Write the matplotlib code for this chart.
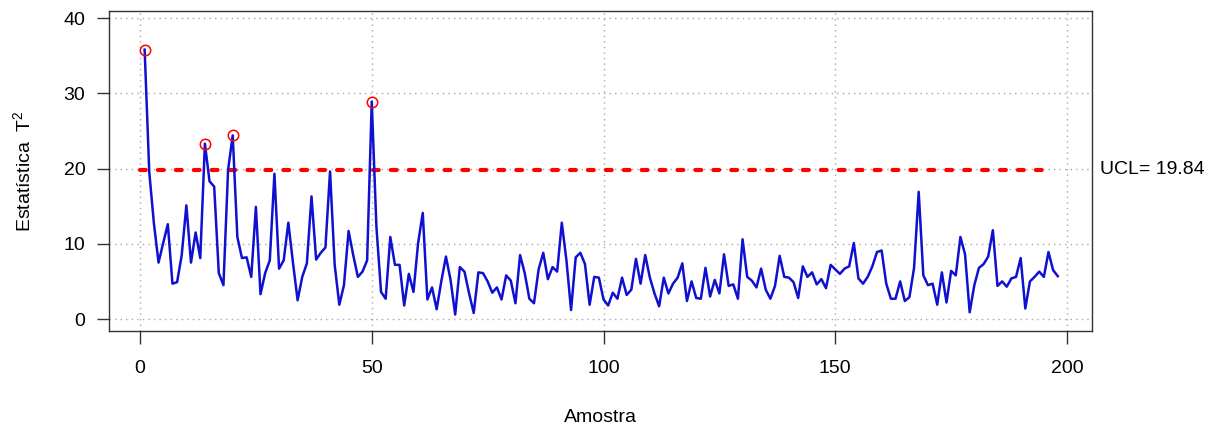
import numpy as np
import matplotlib
matplotlib.use('Agg')
import matplotlib.pyplot as plt

plt.rcParams['font.family'] = ['Liberation Sans', 'DejaVu Sans']
plt.rcParams['mathtext.fontset'] = 'custom'
plt.rcParams['mathtext.rm'] = 'Liberation Sans'
plt.rcParams['mathtext.it'] = 'Liberation Sans'

# T2 statistic per sample
t2 = [35.8, 19.5, 12.7, 7.5, 10.1, 12.6, 4.7, 4.9, 8.5, 15.1,
      7.5, 11.5, 8.1, 23.3, 18.3, 17.6, 6.1, 4.5, 19.8, 24.4,
      10.9, 8.1, 8.2, 5.6, 14.9, 3.3, 6.1, 7.8, 19.3, 6.7,
      7.8, 12.8, 7.5, 2.5, 5.6, 7.4, 16.3, 7.9, 8.8, 9.5,
      19.6, 7.2, 1.9, 4.5, 11.7, 8.5, 5.6, 6.3, 7.8, 28.9,
      12.3, 3.6, 2.7, 10.9, 7.2, 7.2, 1.8, 6.0, 3.6, 10.1,
      14.1, 2.6, 4.2, 1.3, 5.0, 8.3, 5.2, 0.6, 6.9, 6.3,
      3.4, 0.8, 6.2, 6.1, 5.0, 3.5, 4.2, 2.6, 5.8, 5.1,
      2.1, 8.5, 6.1, 2.7, 2.1, 6.6, 8.8, 5.3, 6.9, 6.3,
      12.8, 7.8, 1.2, 8.2, 8.8, 7.3, 1.9, 5.6, 5.5, 2.6,
      1.8, 3.5, 2.7, 5.5, 3.2, 3.9, 8.0, 4.7, 8.5, 5.5,
      3.4, 1.7, 5.5, 3.4, 4.7, 5.5, 7.4, 2.4, 5.0, 2.8,
      2.7, 6.8, 3.0, 5.2, 3.4, 8.6, 4.4, 4.6, 2.7, 10.6,
      5.6, 5.1, 4.2, 6.7, 3.9, 2.7, 4.4, 8.4, 5.6, 5.5,
      4.9, 2.8, 7.0, 5.6, 6.2, 4.6, 5.3, 4.1, 7.2, 6.6,
      6.0, 6.7, 7.0, 10.1, 5.4, 4.7, 5.6, 7.0, 8.9, 9.1,
      4.7, 2.7, 2.7, 5.0, 2.4, 2.9, 6.8, 16.9, 5.8, 4.5,
      4.7, 1.9, 6.2, 2.2, 6.4, 5.8, 10.9, 8.6, 0.9, 4.5,
      6.8, 7.3, 8.3, 11.8, 4.4, 5.0, 4.3, 5.4, 5.6, 8.1,
      1.4, 5.0, 5.6, 6.3, 5.6, 8.9, 6.5, 5.7]
amostra = np.arange(1, len(t2) + 1)
ucl = 19.84

x_ticks = [0, 50, 100, 150, 200]
y_ticks = [0, 10, 20, 30, 40]

t2 = np.array(t2)
out = t2 > ucl

fig = plt.figure(figsize=(12.22, 4.30), dpi=100)
ax = fig.add_axes([109 / 1222, 99 / 430, 983 / 1222, 320.3 / 430])

# dotted grid
for v in x_ticks:
    ax.axvline(v, color='#a8a8a8', lw=1, ls=(0, (1, 3)), zorder=0)
for v in y_ticks:
    ax.axhline(v, color='#a8a8a8', lw=1, ls=(0, (1, 3)), zorder=0)

ax.plot([0, 197], [ucl, ucl], color='red', lw=3, ls=(0, (1.4, 2.9)),
        dash_capstyle='round', zorder=2)
ax.plot(amostra, t2, color='#1010d0', lw=1.8, zorder=3)
ax.plot(amostra[out], t2[out], 'o', mfc='none', mec='red', ms=7.5, mew=1.1, zorder=4)

ax.text(1.0081, ucl, 'UCL= 19.84', transform=ax.get_yaxis_transform(),
        ha='left', va='center', fontsize=14, clip_on=False)

ax.set_xlim(-6.69, 205.39)
ax.set_ylim(-1.59, 40.97)
ax.set_xticks(x_ticks)
ax.set_yticks(y_ticks)
ax.tick_params(length=9, width=1, labelsize=14, color='#333333')
ax.tick_params(axis='x', pad=12)
ax.tick_params(axis='y', pad=8)
for s in ax.spines.values():
    s.set_linewidth(1)
    s.set_color('#333333')

fig.text(23 / 1222, 1 - 171 / 430, 'Estatística  T$^2$', rotation=90,
         ha='center', va='center', fontsize=14)
fig.text(600 / 1222, 1 - 418 / 430, 'Amostra', ha='center', va='center', fontsize=14)

fig.savefig('out.png', dpi=100)
